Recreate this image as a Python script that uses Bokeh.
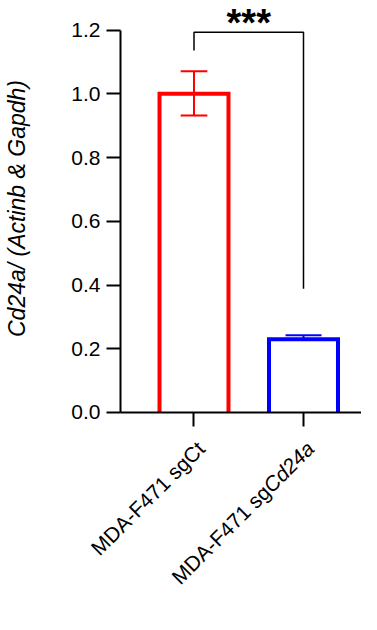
import math
from bokeh.plotting import figure
from bokeh.models import Range1d, FixedTicker
from bokeh.core.properties import value
from bokeh.embed import file_html
from bokeh.resources import INLINE

# ---------------- data ----------------
groups = ["MDA-F471 sgCt", "MDA-F471 sgCd24a"]
label_plain = ["MDA-F471 sgCt", "MDA-F471 sg"]   # upright part of each tick label
label_italic = ["", "Cd24a"]                     # italic tail of each tick label
means = [1.0, 0.230]
err_upper = [1.071, 0.2425]
err_lower = [0.932, 0.230]
bar_colors = ["#FF0000", "#0000FF"]
y_ticks = [0.0, 0.2, 0.4, 0.6, 0.8, 1.0, 1.2]
y_tick_labels = ["0.0", "0.2", "0.4", "0.6", "0.8", "1.0", "1.2"]
y_label = "Cd24a/ (Actinb & Gapdh)"
sig_text = "***"
bracket_top = 1.193
bracket_left_end = 1.136
bracket_right_end = 0.388

# ---------------- style / layout ----------------
FONT = "Liberation Sans"
FS = 21
BAR_W = 0.63
CAP_HALF = [0.122, 0.164]
W, H = 361, 614
X_START, X_END = -1.7671, 1.5297      # frame covers whole canvas
Y_START, Y_END = -0.6338, 1.2927
Y_AXIS_AT = -0.671                    # data x where the y axis is drawn
STAR_Y = 1.222
YLABEL_Y = 0.64
# Liberation Sans advance widths (em) used to join upright + italic label parts
ADV = {"C": 0.722, "d": 0.556, "2": 0.556, "4": 0.556, "a": 0.556}

xs = list(range(len(groups)))

p = figure(width=W, height=H,
           x_range=Range1d(X_START, X_END), y_range=Range1d(Y_START, Y_END),
           output_backend="svg", toolbar_location=None,
           min_border_left=0, min_border_right=0,
           min_border_top=0, min_border_bottom=0)
p.outline_line_color = None
p.xgrid.visible = False
p.ygrid.visible = False
p.background_fill_color = "white"
p.border_fill_color = "white"

# bars: white fill + three-sided outline
p.vbar(x=xs, top=means, bottom=0, width=BAR_W, fill_color="white", line_color=None)
p.multi_line(
    xs=[[x - BAR_W / 2, x - BAR_W / 2, x + BAR_W / 2, x + BAR_W / 2] for x in xs],
    ys=[[0, m, m, 0] for m in means],
    line_color=bar_colors, line_width=4, line_join="miter")

# error bars
p.segment(x0=xs, y0=err_lower, x1=xs, y1=err_upper, line_color=bar_colors, line_width=2)
p.segment(x0=[x - h for x, h in zip(xs, CAP_HALF)], y0=err_upper,
          x1=[x + h for x, h in zip(xs, CAP_HALF)], y1=err_upper,
          line_color=bar_colors, line_width=2)
p.segment(x0=[x - h for x, h in zip(xs, CAP_HALF)], y0=err_lower,
          x1=[x + h for x, h in zip(xs, CAP_HALF)], y1=err_lower,
          line_color=bar_colors, line_width=2)

# significance bracket + stars
p.line(x=[xs[0], xs[0], xs[1], xs[1]],
       y=[bracket_left_end, bracket_top, bracket_top, bracket_right_end],
       line_color="black", line_width=1.5)
p.text(x=[(xs[0] + xs[1]) / 2], y=[STAR_Y], text=[sig_text],
       text_font=value(FONT), text_font_style="bold", text_font_size="38px",
       text_align="center", text_baseline="middle", text_color="black")

# y axis (drawn at a fixed data location)
ya = p.yaxis[0]
ya.fixed_location = Y_AXIS_AT
ya.ticker = FixedTicker(ticks=y_ticks)
ya.major_label_overrides = dict(zip(y_ticks, y_tick_labels))
ya.bounds = (y_ticks[0], y_ticks[-1])
ya.major_label_text_font = FONT
ya.major_label_text_font_size = f"{FS}px"
ya.major_label_text_color = "black"
ya.major_label_standoff = 6

# x axis (at y = 0)
xa = p.xaxis[0]
xa.fixed_location = 0
xa.bounds = (Y_AXIS_AT, X_END)
xa.ticker = FixedTicker(ticks=xs)
xa.major_label_overrides = {x: "" for x in xs}
xa.major_label_text_font_size = "0px"

for ax in (xa, ya):
    ax.axis_line_width = 2
    ax.axis_line_color = "black"
    ax.major_tick_line_width = 2
    ax.major_tick_line_color = "black"
    ax.major_tick_out = 14
    ax.major_tick_in = 0
    ax.minor_tick_out = 0
    ax.minor_tick_in = 0

# y axis title (rotated text)
p.text(x=[X_START], y=[YLABEL_Y], text=[y_label], angle=math.pi / 2,
       x_offset=16, text_font=value(FONT), text_font_style="italic",
       text_font_size="23px", text_align="center", text_baseline="middle",
       text_color="black")

# rotated x tick labels (upright part + italic tail)
ANG = math.pi / 4
c = math.cos(ANG)
DX, DY = 7, 32.5   # screen offset of label end from tick (right, down)
widths = [sum(ADV.get(ch, 0.556) for ch in it) * FS for it in label_italic]
p.text(x=xs, y=[0] * len(xs), text=label_plain, angle=ANG,
       x_offset=[DX - w * c for w in widths], y_offset=[DY + w * c for w in widths],
       text_font=value(FONT), text_font_size=f"{FS}px",
       text_align="right", text_baseline="middle", text_color="black")
ix = [x for x, it in zip(xs, label_italic) if it]
p.text(x=ix, y=[0] * len(ix), text=[it for it in label_italic if it], angle=ANG,
       x_offset=DX, y_offset=DY,
       text_font=value(FONT), text_font_style="italic", text_font_size=f"{FS}px",
       text_align="right", text_baseline="middle", text_color="black")

open("out.html", "w").write(file_html(p, INLINE))
